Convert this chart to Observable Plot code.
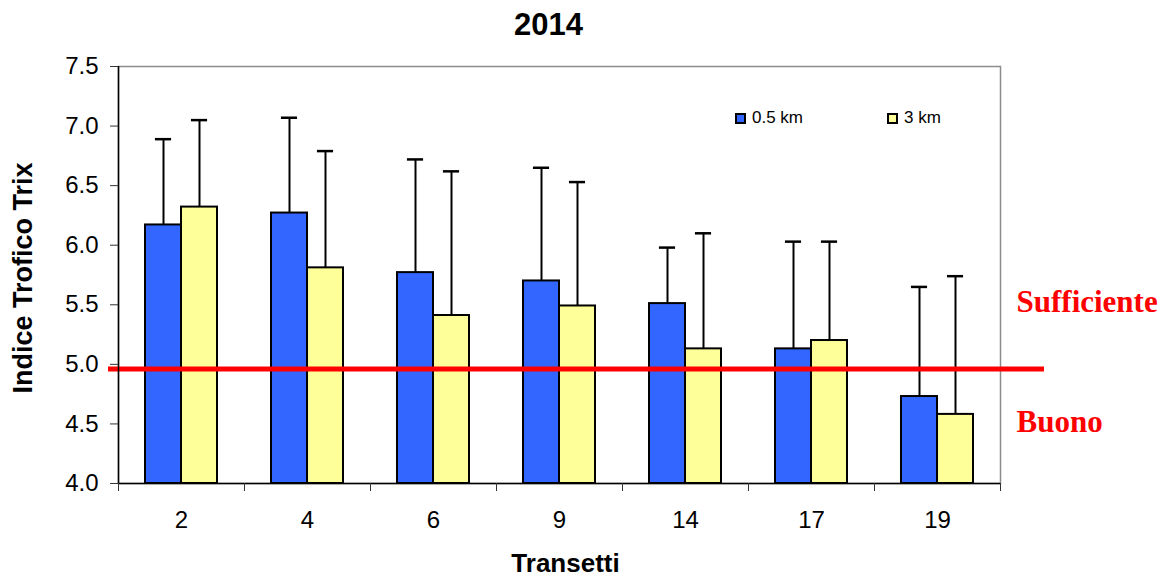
<!DOCTYPE html>
<html>
<head>
<meta charset="utf-8">
<script src="https://cdn.jsdelivr.net/npm/d3@7"></script>
<script src="https://cdn.jsdelivr.net/npm/@observablehq/plot@0.6"></script>
<style>
  html, body { margin: 0; padding: 0; background: white; }
  #wrap { position: relative; width: 1172px; height: 579px; font-family: "Liberation Sans", Arial, sans-serif; }
  #legend { position: absolute; left: 735px; top: 108px; display: flex; align-items: center; font-size: 17px; color: #000; }
  .sw { width: 11px; height: 11px; box-sizing: border-box; border: 2px solid #000; display: inline-block; margin-right: 6px; }
  .item { display: flex; align-items: center; }
</style>
</head>
<body>
<div id="wrap"></div>
<script>
// ---- data ----
const transetti = ["2", "4", "6", "9", "14", "17", "19"];
const series = ["0.5 km", "3 km"];
const mean05 = [6.17, 6.27, 5.77, 5.70, 5.51, 5.13, 4.73];
const sd05   = [0.72, 0.80, 0.95, 0.95, 0.47, 0.90, 0.92];
const mean3  = [6.32, 5.81, 5.41, 5.49, 5.13, 5.20, 4.58];
const sd3    = [0.73, 0.98, 1.21, 1.04, 0.97, 0.83, 1.16];
const yTicks = [4.0, 4.5, 5.0, 5.5, 6.0, 6.5, 7.0, 7.5];
const threshold = [4.96];
const zoneLabels = ["Sufficiente", "Buono"];
const colors = ["#3366FF", "#FFFF99"];
const titleText = "2014";
const yTitle = "Indice Trofico Trix";
const xTitle = "Transetti";

// ---- layout helpers (band units) ----
const bw = 2 / 7;       // bar width as fraction of a category band
const capHalf = 0.064;  // half width of error-bar caps

const means = [mean05, mean3];
const sds = [sd05, sd3];
const rows = [];
transetti.forEach((t, i) => {
  series.forEach((s, j) => {
    const x1 = i + 0.5 + (j - 1) * bw;
    rows.push({t, s, i, j, value: means[j][i], sd: sds[j][i], x1, x2: x1 + bw, c: x1 + bw / 2});
  });
});

const serif = "'Liberation Serif', 'Times New Roman', serif";

const chart = Plot.plot({
  width: 1172,
  height: 579,
  marginTop: 66,
  marginBottom: 96,
  marginLeft: 118,
  marginRight: 172,
  style: {fontFamily: "'Liberation Sans', Arial, sans-serif", background: "white", color: "black", overflow: "visible"},
  x: {domain: [0, transetti.length]},
  y: {domain: [yTicks[0], yTicks[yTicks.length - 1]]},
  color: {domain: series, range: colors},
  marks: [
    Plot.frame({stroke: "#8c8c8c", strokeWidth: 1.5}),
    Plot.rectY(rows, {x1: "x1", x2: "x2", y1: yTicks[0], y2: "value", fill: "s", stroke: "black", strokeWidth: 2}),
    Plot.ruleX(rows, {x: "c", y1: "value", y2: d => d.value + d.sd, stroke: "black", strokeWidth: 2}),
    Plot.ruleY(rows, {y: d => d.value + d.sd, x1: d => d.c - capHalf, x2: d => d.c + capHalf, stroke: "black", strokeWidth: 2.5}),
    Plot.ruleY(threshold, {stroke: "#FF0000", strokeWidth: 5, insetLeft: -10, insetRight: -44}),
    Plot.ruleY([yTicks[0]], {stroke: "black", strokeWidth: 1.5}),
    Plot.ruleX([0], {stroke: "black", strokeWidth: 1.5}),
    Plot.axisY({ticks: yTicks, tickFormat: d3.format(".1f"), tickSize: 8, tickPadding: 12, fontSize: 24, label: null, stroke: "#333"}),
    Plot.axisX({ticks: d3.range(transetti.length + 1), tickSize: 8, tickFormat: () => "", label: null, stroke: "#333"}),
    Plot.axisX({ticks: d3.range(transetti.length).map(i => i + 0.5), tickSize: 0, tickPadding: 27, tickFormat: d => transetti[Math.floor(d)], fontSize: 24, label: null}),
    Plot.text([titleText], {frameAnchor: "top", lineAnchor: "middle", textAnchor: "middle", dy: -41, dx: -11, fontSize: 31, fontWeight: "bold"}),
    Plot.text([yTitle], {frameAnchor: "left", lineAnchor: "middle", textAnchor: "middle", rotate: -90, dx: -95, dy: 3, fontSize: 27, fontWeight: "bold"}),
    Plot.text([xTitle], {frameAnchor: "bottom", lineAnchor: "middle", textAnchor: "middle", dy: 80, dx: 6, fontSize: 26, fontWeight: "bold"}),
    Plot.text([zoneLabels[0]], {y: () => threshold[0], frameAnchor: "right", lineAnchor: "middle", dx: 16, dy: -67, textAnchor: "start", fill: "#FF0000", fontSize: 31, fontWeight: "bold", fontFamily: serif}),
    Plot.text([zoneLabels[1]], {y: () => threshold[0], frameAnchor: "right", lineAnchor: "middle", dx: 16, dy: 53, textAnchor: "start", fill: "#FF0000", fontSize: 31, fontWeight: "bold", fontFamily: serif})
  ]
});

const wrap = document.getElementById("wrap");
wrap.appendChild(chart);

// legend
const legend = document.createElement("div");
legend.id = "legend";
series.forEach((s, j) => {
  const item = document.createElement("div");
  item.className = "item";
  item.style.marginRight = j === 0 ? "84px" : "0";
  const sw = document.createElement("span");
  sw.className = "sw";
  sw.style.background = colors[j];
  const lab = document.createElement("span");
  lab.textContent = s;
  item.appendChild(sw);
  item.appendChild(lab);
  legend.appendChild(item);
});
wrap.appendChild(legend);
</script>
</body>
</html>
